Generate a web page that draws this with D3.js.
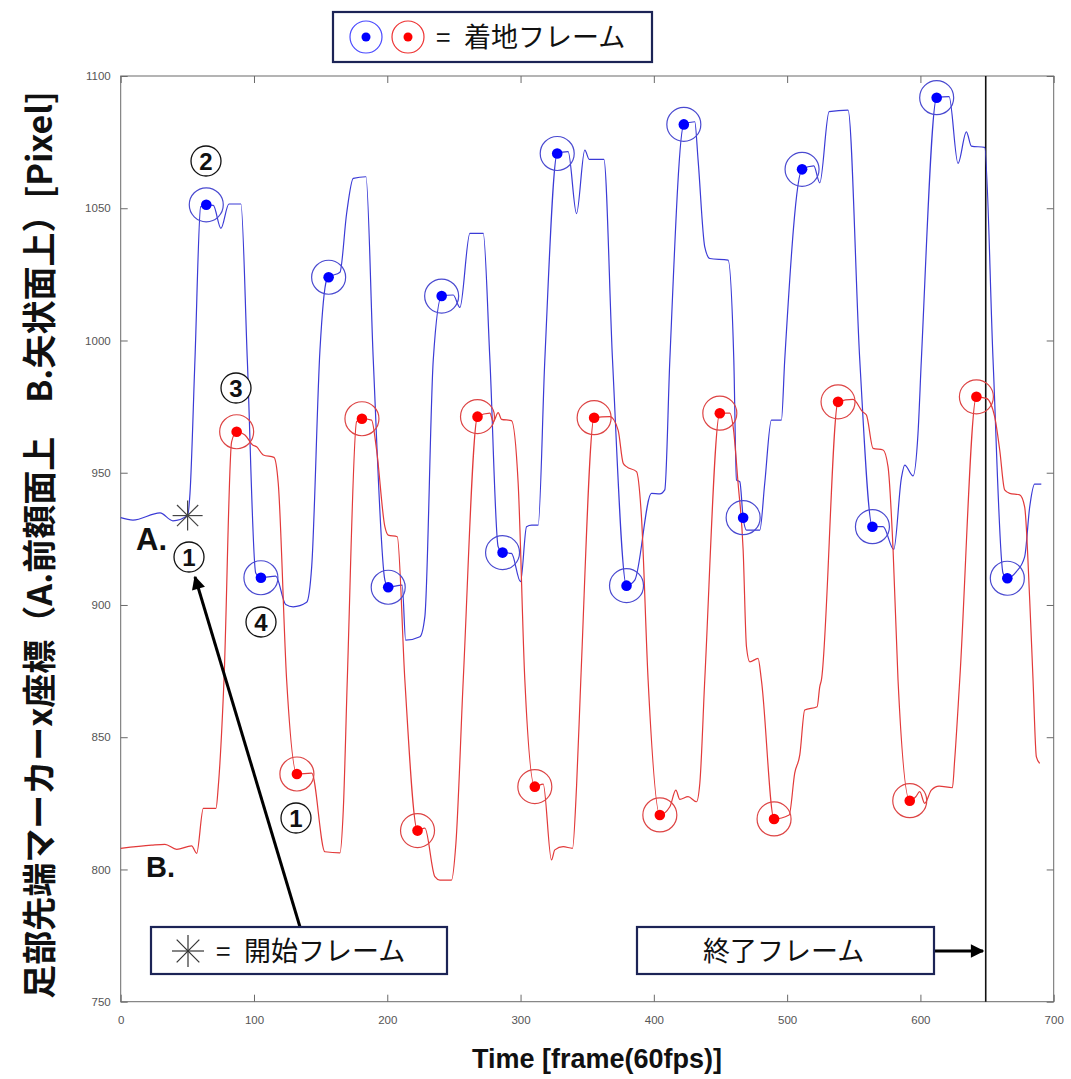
<!DOCTYPE html>
<html><head><meta charset="utf-8">
<script src="https://cdn.jsdelivr.net/npm/d3@7"></script>
<style>body{margin:0;background:#fff}svg{display:block}</style>
</head><body>
<script>
// ---- data ----
const xTicks = [0,100,200,300,400,500,600,700];
const yTicks = [750,800,850,900,950,1000,1050,1100];

const frameA = [0,9.2,29.5,39.2,50.2,52,55.7,60,64.2,69.5,75.2,81.2,90.2,95,101.3,105.2,116.3,123.8,129.4,139.5,143.3,149.5,154.5,156,164.5,169.5,174.5,184,189.5,198.2,200.7,211.2,213.8,224.5,228.2,234.5,240.8,249.5,254.5,262,272,277,283.2,286.5,293.2,300,304.5,308.3,313.2,318.2,327.5,335.7,342,348.2,351.5,362.5,369,379.5,385.7,398.2,404.5,408.2,412,422.5,430.7,433.2,438.2,442,455.7,460,462,464.5,467,469.5,479.5,483.2,488.2,495.7,498.2,511.2,520,524.5,531.5,545.7,554.5,564,572,580,585.7,588.2,594.5,598.2,600.7,612.2,621.5,628.2,634.5,638.2,648.2,654.5,662,665.2,672,678.2,682,685.7,690.7];
const valueA = [933,932.1,934.8,931.8,933.8,942.3,992.6,1050.6,1051.3,1051.1,1042.4,1051.6,1051.6,992.6,912.1,910.3,910.9,900.2,899.3,901,914.5,996.4,1022.9,1023.9,1025.8,1048,1061.3,1061.9,992.6,909.4,906.7,907.5,886.7,888,895.6,992.6,1016.8,1017.2,1012.5,1040.5,1040.5,992.6,922,919.8,919.5,908.8,929.6,930.2,930.2,992.6,1070.7,1071.4,1048,1072,1068.5,1068.5,992.6,907.3,909.4,942.2,942,943.5,992.6,1081.7,1082.7,1068.2,1035.4,1031,1030.4,992.6,947.2,946.6,933,928.3,928.3,946,969.9,969.9,992.6,1064.7,1066,1059.6,1086.5,1087.1,992.6,929.6,929.6,921,947.9,952.9,948.8,964.9,992.6,1091.8,1092.2,1067,1078.9,1073.5,1073,992.6,912,910.1,912.6,918.2,937.1,945.7,945.7];

const frameB = [0,23.2,33.2,42,53.2,57,62,71.5,73.2,77.5,83.2,87,93.2,99,102,107,115,118.2,124.5,132.2,143.3,153.2,164.5,167,170,177,181,188.2,192,198.2,200.7,207.5,213.2,222.7,228.2,235.7,239.5,248.2,251.5,257,267.7,277,279.5,283.2,285.7,293.2,298.2,303.2,310.7,317,323.2,325.7,332,339,342,345.2,355.2,367,373.2,377,379.5,387,390.7,395.7,404.5,412,416.5,419.5,425.7,432,434.5,438.2,449.5,457,459.5,463.2,467,469.5,472,478.2,480.7,490.2,501.5,505.7,509.5,513.2,522.5,524.5,525.7,538.2,549.5,556.5,559.5,564.5,572,575.7,579.5,583.2,592,596.5,599.5,603.2,608.2,614,624,625.7,629.5,642,649.5,655.7,659.5,663.2,667,674.5,678.2,682,684.5,687,689.5];
const valueB = [808,809.2,809.5,807.6,808.9,806.1,823.1,823.1,831.3,871.6,961.7,965.5,964.3,960.5,959.8,956.7,955.8,946,871.6,836.1,836.4,806.7,806.3,822.5,871.6,969.3,970.4,969.9,958.6,929.6,926.4,925.8,871.6,814.7,815.6,797.3,796,796,809.9,871.6,971.2,972.5,969.3,972.7,970.2,969.7,946,871.6,831.3,832.3,803.6,807.4,808.6,808,831.3,871.6,970.8,971.2,966.1,953.6,952.3,950.4,933.4,871.6,820.6,823.7,830,826.5,827.5,825.6,832.6,871.6,972.5,972.5,967.4,946,920.8,884.2,878.5,879.8,871.6,819.1,820.6,836.4,843.3,860.3,861.5,869.1,871.6,976.8,977.7,973.1,971.8,959.2,958.6,952.3,920.8,871.6,826,827.5,829.4,825,830,831.5,830.9,841.4,871.6,978.7,978.1,971.2,958.6,943.5,942.2,941.6,937.1,901.9,871.6,842.6,840.1];

const landFramesA = [64.2,105.2,156,200.7,240.8,286.5,327.5,379.5,422.5,467,511.2,564,612.2,665.2];
const landValuesA = [1051.3,910.3,1023.9,906.7,1016.8,919.8,1070.7,907.3,1081.7,933,1064.7,929.6,1091.8,910.1];
const landFramesB = [87,132.2,181,222.7,267.7,310.7,355.2,404.5,449.5,490.2,538.2,592,642];
const landValuesB = [965.5,836.1,970.4,814.7,971.2,831.3,970.8,820.6,972.5,819.1,976.8,826,978.7];

const startFrame = 50.2, startValue = 933.8;
const endFrame = 649;

const xLabel = "Time [frame(60fps)]";
const yLabel = "足部先端マーカーx座標（A.前額面上　B.矢状面上）[Pixel]";

// ---- layout ----
const W = 1071, H = 1079;
const L = 120.7, R = 1053.7, T = 76, B = 1001.7;
const blueLine = "#3b3bd6", redLine = "#e23a3a";

const svg = d3.select("body").append("svg").attr("width", W).attr("height", H);
const x = d3.scaleLinear().domain([0,700]).range([L,R]);
const y = d3.scaleLinear().domain([750,1100]).range([B,T]);

const axisColor = "#6a6a6a";
svg.append("rect").attr("x",L).attr("y",T).attr("width",R-L).attr("height",B-T)
  .attr("fill","none").attr("stroke",axisColor).attr("stroke-width",1);

const gx = svg.append("g").attr("transform",`translate(0,${B})`)
  .call(d3.axisBottom(x).tickValues(xTicks).tickSize(-7).tickPadding(14).tickFormat(d3.format("d")));
const gxt = svg.append("g").attr("transform",`translate(0,${T})`)
  .call(d3.axisTop(x).tickValues(xTicks).tickSize(-7).tickFormat(""));
const gy = svg.append("g").attr("transform",`translate(${L},0)`)
  .call(d3.axisLeft(y).tickValues(yTicks).tickSize(-7).tickPadding(10).tickFormat(d3.format("d")));
const gyr = svg.append("g").attr("transform",`translate(${R},0)`)
  .call(d3.axisRight(y).tickValues(yTicks).tickSize(-7).tickFormat(""));
[gx,gxt,gy,gyr].forEach(g=>{
  g.select(".domain").remove();
  g.selectAll("line").attr("stroke",axisColor);
  g.selectAll("text").attr("fill","#555").style("font-family","Liberation Sans, Arial, sans-serif").style("font-size","11.5px");
});

// end frame line
svg.append("line").attr("x1",x(endFrame)).attr("x2",x(endFrame)).attr("y1",T).attr("y2",B)
  .attr("stroke","#111").attr("stroke-width",1.6);

// curves
const line = d3.line().x(d=>x(d[0])).y(d=>y(d[1])).curve(d3.curveMonotoneX);
svg.append("path").datum(frameA.map((f,i)=>[f,valueA[i]]))
  .attr("d",line).attr("fill","none").attr("stroke",blueLine).attr("stroke-width",1.2);
svg.append("path").datum(frameB.map((f,i)=>[f,valueB[i]]))
  .attr("d",line).attr("fill","none").attr("stroke",redLine).attr("stroke-width",1.2);

// markers
function markers(fr, vals, ring, dot){
  const g = svg.append("g");
  fr.forEach((f,i)=>{
    g.append("circle").attr("cx",x(f)).attr("cy",y(vals[i])).attr("r",17)
      .attr("fill","none").attr("stroke",ring).attr("stroke-width",1.2);
    g.append("circle").attr("cx",x(f)).attr("cy",y(vals[i])).attr("r",5.3).attr("fill",dot);
  });
}
markers(landFramesA, landValuesA, "#4a4ad0", "#0000ff");
markers(landFramesB, landValuesB, "#dd4444", "#ff0000");

// asterisk
function star(cx, cy, r, color, w){
  const g = svg.append("g").attr("stroke",color).attr("stroke-width",w);
  for(let k=0;k<4;k++){
    const a = k*Math.PI/4;
    g.append("line").attr("x1",cx-r*Math.cos(a)).attr("y1",cy-r*Math.sin(a))
      .attr("x2",cx+r*Math.cos(a)).attr("y2",cy+r*Math.sin(a));
  }
}
star(x(startFrame), y(startValue), 15, "#444", 1.2);

// circled numbers (drawn as circle + bold digit)
const cjk = "'Noto Sans CJK JP', 'Noto Sans', sans-serif";
function circled(t, cx, cy){
  svg.append("circle").attr("cx",cx).attr("cy",cy).attr("r",15).attr("fill","#fff")
    .attr("stroke","#111").attr("stroke-width",1.3);
  svg.append("text").attr("x",cx).attr("y",cy+8.5).attr("text-anchor","middle")
    .style("font-family","Liberation Sans, Arial, sans-serif").style("font-weight","bold")
    .style("font-size","24px").attr("fill","#111").text(t);
}
circled("2", 206, 161);
circled("3", 236, 388);
circled("1", 189, 557);
circled("4", 261, 622);
circled("1", 296, 818);

svg.append("text").attr("x",136).attr("y",550).style("font-family","Liberation Sans, Arial, sans-serif")
  .style("font-weight","bold").style("font-size","31px").attr("fill","#111").text("A.");
svg.append("text").attr("x",146).attr("y",877).style("font-family","Liberation Sans, Arial, sans-serif")
  .style("font-weight","bold").style("font-size","29px").attr("fill","#111").text("B.");

// arrows
const defs = svg.append("defs");
defs.append("marker").attr("id","ah").attr("viewBox","0 0 10 10").attr("refX",9).attr("refY",5)
  .attr("markerWidth",5).attr("markerHeight",4.5).attr("markerUnits","strokeWidth").attr("orient","auto")
  .append("path").attr("d","M0,0 L10,5 L0,10 z").attr("fill","#000");
svg.append("line").attr("x1",300).attr("y1",927).attr("x2",195).attr("y2",577)
  .attr("stroke","#000").attr("stroke-width",3).attr("marker-end","url(#ah)");
svg.append("line").attr("x1",935).attr("y1",951).attr("x2",983).attr("y2",951)
  .attr("stroke","#000").attr("stroke-width",3).attr("marker-end","url(#ah)");

// boxes
const boxStroke = "#1c2456";
function box(x0,y0,w,h){
  svg.append("rect").attr("x",x0).attr("y",y0).attr("width",w).attr("height",h)
    .attr("fill","#fff").attr("stroke",boxStroke).attr("stroke-width",2.2);
}
box(333,12,319,50);
svg.append("circle").attr("cx",366).attr("cy",37).attr("r",16).attr("fill","none").attr("stroke","#4a4aff").attr("stroke-width",1.2);
svg.append("circle").attr("cx",366).attr("cy",37).attr("r",4.5).attr("fill","#0000ff");
svg.append("circle").attr("cx",408).attr("cy",37).attr("r",16).attr("fill","none").attr("stroke","#ee3333").attr("stroke-width",1.2);
svg.append("circle").attr("cx",408).attr("cy",37).attr("r",4.5).attr("fill","#ff0000");
svg.append("text").attr("x",436).attr("y",47).style("font-family",cjk).style("font-size","26px").attr("fill","#111").text("=");
svg.append("text").attr("x",464).attr("y",47).style("font-family",cjk).style("font-size","27px").attr("fill","#111").text("着地フレーム");

box(151,927,296,47);
star(188, 951, 16, "#333", 1.2);
svg.append("text").attr("x",216).attr("y",961).style("font-family",cjk).style("font-size","26px").attr("fill","#111").text("=");
svg.append("text").attr("x",244).attr("y",961).style("font-family",cjk).style("font-size","27px").attr("fill","#111").text("開始フレーム");

box(637,927,297,47);
svg.append("text").attr("x",703).attr("y",961).style("font-family",cjk).style("font-size","27px").attr("fill","#111").text("終了フレーム");

// axis labels
svg.append("text").attr("x",597).attr("y",1068).attr("text-anchor","middle")
  .style("font-family","Liberation Sans, Arial, sans-serif").style("font-weight","bold").style("font-size","27px")
  .attr("fill","#111").text(xLabel);
svg.append("text").attr("transform","translate(52,545) rotate(-90)").attr("text-anchor","middle")
  .style("font-family",cjk).style("font-weight","bold").style("font-size","34px")
  .attr("fill","#111").text(yLabel);
</script>
</body></html>
